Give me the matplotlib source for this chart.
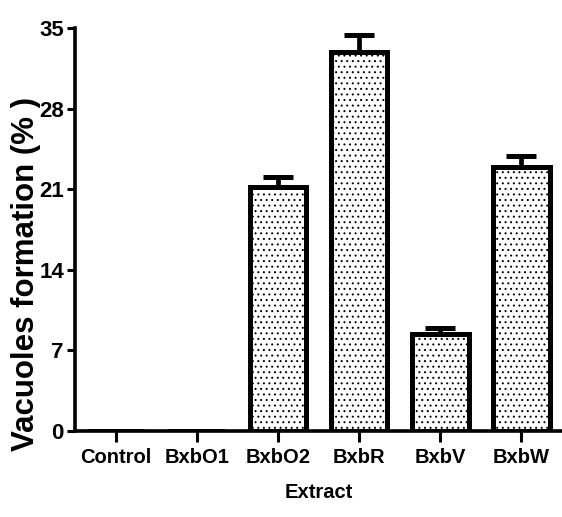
import numpy as np
import matplotlib.pyplot as plt

# Vacuole formation per extract (mean and SEM)
extracts = ['Control', 'BxbO1', 'BxbO2', 'BxbR', 'BxbV', 'BxbW']
vacuoles = [0.0, 0.0, 21.2, 32.9, 8.4, 22.9]
sem = [0.0, 0.0, 0.85, 1.5, 0.55, 1.0]
y_ticks = [0, 7, 14, 21, 28, 35]

plt.rcParams['font.family'] = ['Liberation Sans', 'DejaVu Sans']
plt.rcParams['hatch.linewidth'] = 0.7
plt.rcParams['hatch.color'] = 'black'

fig = plt.figure(figsize=(5.62, 5.17), dpi=100)
ax = fig.add_axes([75 / 562, 86 / 517, 487 / 562, 403 / 517])

x = np.arange(len(extracts))
ax.bar(x, vacuoles, width=0.7, color='white', edgecolor='black',
       linewidth=3.6, hatch='...', zorder=2)
ax.errorbar(x, vacuoles, yerr=[np.zeros(len(sem)), sem], fmt='none',
            ecolor='black', elinewidth=3.4, capsize=10.5, capthick=3.6, zorder=1)

ax.set_xlim(-0.5, 5.5)
ax.set_ylim(0, 35)
ax.set_yticks(y_ticks)
ax.set_xticks(x)
ax.set_xticklabels(extracts, fontsize=14.5, fontweight='bold')
ax.set_yticklabels([str(t) for t in y_ticks], fontsize=16, fontweight='bold')

for side in ['top', 'right']:
    ax.spines[side].set_visible(False)
for side in ['left', 'bottom']:
    ax.spines[side].set_linewidth(2.6)
ax.tick_params(axis='y', direction='out', length=6, width=2.2, pad=2)
ax.tick_params(axis='x', direction='out', length=8, width=2.2, pad=4)

ax.set_xlabel('Extract', fontsize=14.5, fontweight='bold', labelpad=12)
ax.set_ylabel('Vacuoles formation (% )', fontsize=22.5, fontweight='bold')
ax.yaxis.set_label_coords(-0.07, 0.39)

fig.savefig('out.png', dpi=100)
